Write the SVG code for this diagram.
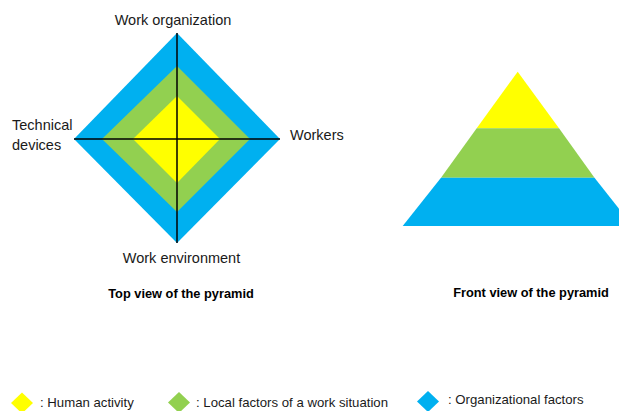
<svg xmlns="http://www.w3.org/2000/svg" width="619" height="411" viewBox="0 0 619 411">
<style>
.lbl{font-family:"Liberation Sans",Arial,sans-serif;font-size:14.5px;fill:#1a1a1a}
.cap{font-family:"Liberation Sans",Arial,sans-serif;font-size:12.8px;font-weight:bold;fill:#000}
.leg{font-family:"Liberation Sans",Arial,sans-serif;font-size:13.2px;fill:#1a1a1a}
.y{fill:#FFFF00}.g{fill:#92D050}.b{fill:#00B0F0}
.ax{stroke:#000;stroke-width:1.5;fill:none}
</style>
<rect width="619" height="411" fill="#fff"/>
<g id="top-view">
<polygon class="b" points="177,33 280,139 177,243 74,139"/>
<polygon class="g" points="177,66 250,139 177,212 102,139"/>
<polygon class="y" points="177,96 220,139 177,183 133,139"/>
</g>
<g id="connectors">
<line class="ax" x1="177" y1="33" x2="177" y2="243"/>
<line class="ax" x1="74" y1="139" x2="280" y2="139"/>
</g>
<g id="label-work-organization"><text class="lbl" x="173" y="25" text-anchor="middle">Work organization</text></g>
<g id="label-technical-devices"><text class="lbl" x="12" y="130">Technical</text><text class="lbl" x="12" y="150">devices</text></g>
<g id="label-workers"><text class="lbl" x="290" y="140">Workers</text></g>
<g id="label-work-environment"><text class="lbl" x="181.5" y="263" text-anchor="middle">Work environment</text></g>
<g id="caption-top"><text class="cap" x="181" y="298" text-anchor="middle">Top view of the pyramid</text></g>
<g id="front-view">
<polygon class="y" points="517.7,71.7 559,128.3 476.7,128.3"/>
<polygon class="g" points="476.7,128.3 559,128.3 594.5,177.7 441,177.7"/>
<polygon class="b" points="441,177.7 594.5,177.7 632.7,226 402.7,226"/>
</g>
<g id="caption-front"><text class="cap" x="531" y="297" text-anchor="middle">Front view of the pyramid</text></g>
<g id="legend-human">
<polygon class="y" points="22,392.5 33,403 22,413.5 11,403"/>
<text class="leg" x="40" y="407">: Human activity</text>
</g>
<g id="legend-local">
<polygon class="g" points="179,392 190,402.5 179,413 168,402.5"/>
<text class="leg" x="196" y="407">: Local factors of a work situation</text>
</g>
<g id="legend-organizational">
<polygon class="b" points="428,391 439,401.5 428,412 417,401.5"/>
<text class="leg" x="448" y="404">: Organizational factors</text>
</g>
</svg>
